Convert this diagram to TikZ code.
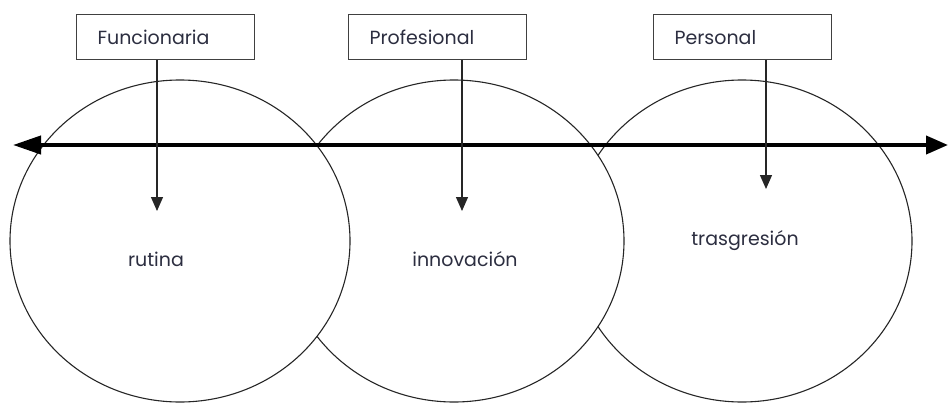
\documentclass[tikz,border=0pt]{standalone}
\usepackage{fontspec}
\setmainfont{Poppins}
\usetikzlibrary{arrows.meta}
\definecolor{txt}{HTML}{2C2E40}
\tikzset{
  circ/.style={draw=black!85, fill=white, line width=1.1pt},
  labelbox/.style={draw=black!75, line width=1.2pt, fill=white, anchor=north west, inner xsep=21pt, text width=136pt, align=left, minimum height=45pt, text=txt, font=\fontsize{19}{21}\selectfont},
  lbl/.style={text=txt, font=\fontsize{19}{21}\selectfont},
  mainarrow/.style={line width=4pt, {Triangle[length=28pt,width=18pt]}-{Triangle[length=22pt,width=18pt]}},
  droparrow/.style={line width=1.3pt, draw=black!85, -{Triangle[length=14pt,width=12pt]}}
}
\begin{document}
\begin{tikzpicture}[x=1pt,y=-1pt]
\useasboundingbox (0,0) rectangle (948,404);
% circles (right behind middle behind left)
\path[circ] (742,241) ellipse [x radius=170, y radius=161];
\path[circ] (454,241) ellipse [x radius=170, y radius=161];
\path[circ] (180,241) ellipse [x radius=170, y radius=161];
% main axis
\coordinate (L) at (13,145);
\coordinate (R) at (948,145);
\draw[mainarrow] (L) -- (R);
% boxes
\node[labelbox] (f) at (76,14) {Funcionaria};
\node[labelbox] (p) at (348,14) {Profesional};
\node[labelbox] (s) at (653,14) {Personal};
% arrow tips
\coordinate (ft) at (157,211);
\coordinate (pt) at (462,211);
\coordinate (st) at (766,189);
\draw[droparrow] (f.south -| ft) -- (ft);
\draw[droparrow] (p.south -| pt) -- (pt);
\draw[droparrow] (s.south -| st) -- (st);
% labels
\node[lbl] (r) at (156,259) {rutina};
\node[lbl] (i) at (465,259) {innovación};
\node[lbl] (t) at (745,241) {trasgresión};
\end{tikzpicture}
\end{document}
